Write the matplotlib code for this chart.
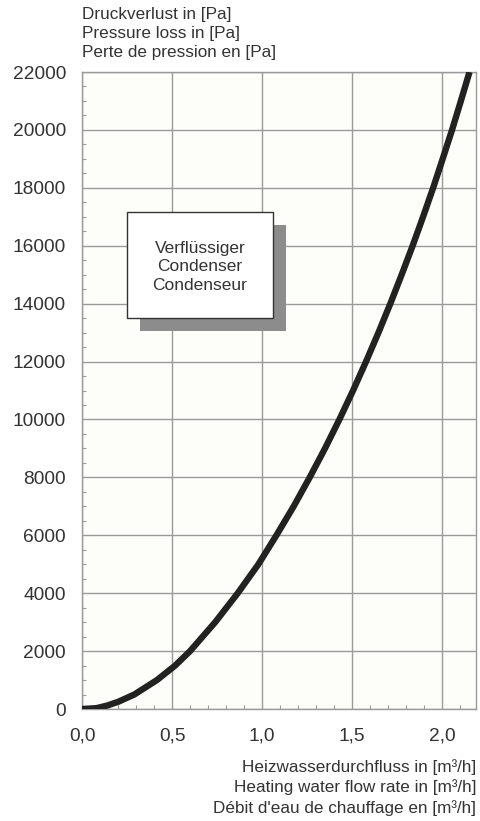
import numpy as np
import matplotlib.pyplot as plt
from matplotlib.patches import Rectangle
from matplotlib.ticker import MultipleLocator, FuncFormatter

plt.rcParams['font.family'] = ['Liberation Sans', 'DejaVu Sans']

# durchfluss [m3/h] und druckverlust [Pa]
flow = [0.0, 0.08, 0.14, 0.201, 0.29, 0.416, 0.517, 0.6, 0.74, 0.865, 0.98, 1.08,
        1.176, 1.265, 1.35, 1.43, 1.506, 1.578, 1.647, 1.713, 1.776, 1.837,
        1.895, 1.951, 2.004, 2.056, 2.105, 2.153]
dp = [0, 30, 120, 250, 500, 1000, 1500, 2000, 3000, 4000, 5000, 6000,
      7000, 8000, 9000, 10000, 11000, 12000, 13000, 14000, 15000, 16000,
      17000, 18000, 19000, 20000, 21000, 22000]

y_title = ["Druckverlust in [Pa]", "Pressure loss in [Pa]", "Perte de pression en [Pa]"]
x_title = ["Heizwasserdurchfluss in [m³/h]", "Heating water flow rate in [m³/h]",
           "Débit d'eau de chauffage en [m³/h]"]
box_text = "Verflüssiger\nCondenser\nCondenseur"

txt = '#333333'
grid = '#9a9a9a'

fig = plt.figure(figsize=(4.8, 8.21), dpi=100)
ax = fig.add_axes([0.171, 0.1364, 0.821, 0.7759])
ax.set_facecolor('#fdfdf9')

ax.plot(flow, dp, color='#222222', linewidth=4.6, solid_capstyle='butt',
        solid_joinstyle='round', zorder=5)

ax.set_xlim(0, 2.19)
ax.set_ylim(0, 22000)
ax.xaxis.set_major_locator(MultipleLocator(0.5))
ax.xaxis.set_minor_locator(MultipleLocator(0.1))
ax.yaxis.set_major_locator(MultipleLocator(2000))
ax.yaxis.set_minor_locator(MultipleLocator(500))
ax.xaxis.set_major_formatter(FuncFormatter(lambda v, p: ('%.1f' % v).replace('.', ',')))

ax.grid(True, which='major', color=grid, linewidth=1.0)
ax.tick_params(which='major', length=0, labelsize=13.8, labelcolor=txt)
ax.tick_params(axis='y', which='major', pad=11.5)
ax.tick_params(axis='x', which='major', pad=13)
ax.tick_params(which='minor', direction='in', length=3, color=grid, width=0.8)
for s in ax.spines.values():
    s.set_color(grid)
    s.set_linewidth(1.0)

# legende mit schatten
ax.add_patch(Rectangle((0.147, 0.593), 0.371, 0.167, transform=ax.transAxes,
                       facecolor='#8c8c8c', edgecolor='none', zorder=6))
ax.add_patch(Rectangle((0.114, 0.614), 0.370, 0.167, transform=ax.transAxes,
                       facecolor='white', edgecolor='#333333', linewidth=1.0, zorder=7))
ax.text(0.299, 0.694, box_text, transform=ax.transAxes, ha='center', va='center',
        fontsize=12.5, color=txt, linespacing=1.28, zorder=8)

for i, t in enumerate(y_title):
    fig.text(82 / 480, 1 - (14 + 19.5 * i) / 821, t, ha='left', va='center',
             fontsize=12.3, color=txt)
for i, t in enumerate(x_title):
    fig.text(476 / 480, 1 - (767 + 20.5 * i) / 821, t, ha='right', va='center',
             fontsize=12.3, color=txt)

fig.savefig('out.png', dpi=100, facecolor='white')
